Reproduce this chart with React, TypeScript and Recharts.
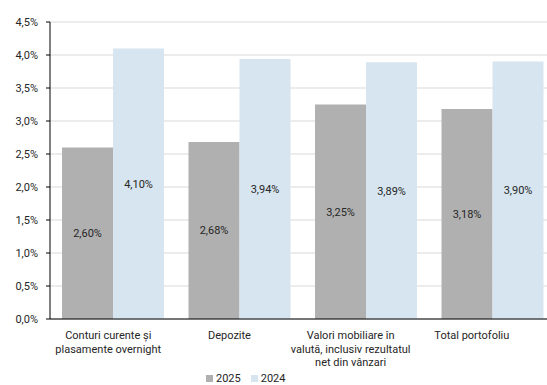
import { BarChart, Bar, XAxis, YAxis, CartesianGrid, Legend, LabelList } from "recharts";

const categories = [
  "Conturi curente și\nplasamente overnight",
  "Depozite",
  "Valori mobiliare în\nvalută, inclusiv rezultatul\nnet din vânzari",
  "Total portofoliu",
];
const values2025 = [2.6, 2.68, 3.25, 3.18];
const values2024 = [4.1, 3.94, 3.89, 3.9];
const yTicks = [0, 0.5, 1, 1.5, 2, 2.5, 3, 3.5, 4, 4.5];
const boundaryTicks = [0, 1, 2, 3, 4];
const seriesOrder = ["y2025", "y2024"];

const data = categories.map((name, i) => ({ name, y2025: values2025[i], y2024: values2024[i] }));

const FONT = "Roboto, 'Noto Sans', sans-serif";
const pct1 = (v: number) => `${v.toFixed(1).replace(".", ",")}%`;
const pct2 = (v: any) => `${Number(v).toFixed(2).replace(".", ",")}%`;

function CatTick({ x, y, payload, index }: any) {
  const lines = String(payload.value).split("\n");
  // excel-style drift of the category labels
  const dx = -5 - (index ?? 0) * 5.3;
  return (
    <g transform={`translate(${x + dx},${y})`}>
      <text textAnchor="middle" fill="#262626" fontSize={11} fontFamily={FONT}>
        {lines.map((l, i) => (
          <tspan key={i} x={0} y={12 + i * 13.5}>{l}</tspan>
        ))}
      </text>
    </g>
  );
}

function LegendBox({ payload }: any) {
  const items = [...(payload || [])].sort(
    (a: any, b: any) => seriesOrder.indexOf(a.dataKey) - seriesOrder.indexOf(b.dataKey)
  );
  return (
    <div style={{ display: "flex", gap: 10, fontFamily: FONT, fontSize: 11, color: "#262626", lineHeight: "13px" }}>
      {items.map((p: any) => (
        <span key={p.value} style={{ display: "flex", alignItems: "center" }}>
          <span style={{ width: 7, height: 7, background: p.color, marginRight: 3, display: "inline-block" }} />
          {p.value}
        </span>
      ))}
    </div>
  );
}

export default function App() {
  return (
    <div style={{ position: "absolute", left: 0, top: 0, width: 547, height: 385, overflow: "hidden", background: "#fff" }}>
      <BarChart width={560} height={385} data={data} margin={{ top: 22, right: 4, left: 0, bottom: 0 }}
        barCategoryGap="9.5%" barGap={0}>
        <CartesianGrid vertical={false} stroke="#d9d9d9" xAxisId="cat" />
        <XAxis xAxisId="b" type="number" domain={[0, 4]} ticks={boundaryTicks} height={0}
          axisLine={false} tick={false} tickSize={4} tickLine={{ stroke: "#000" }} allowDataOverflow />
        <XAxis xAxisId="cat" dataKey="name" height={53} interval={0} tickLine={false}
          axisLine={{ stroke: "#000" }} tick={<CatTick />} />
        <YAxis domain={[0, 4.5]} ticks={yTicks} width={50} tickFormatter={pct1} tickSize={4} tickMargin={8}
          axisLine={{ stroke: "#000" }} tickLine={{ stroke: "#000" }}
          tick={{ fontSize: 11, fontFamily: FONT, fill: "#262626" }} interval={0} />
        <Legend content={<LegendBox />} wrapperStyle={{ left: 206, width: 100, bottom: 0 }} />
        <Bar xAxisId="cat" dataKey="y2025" name="2025" fill="#b0b0b0" isAnimationActive={false}>
          <LabelList dataKey="y2025" position="center" formatter={pct2} fill="#262626" fontSize={11} fontFamily={FONT} />
        </Bar>
        <Bar xAxisId="cat" dataKey="y2024" name="2024" fill="#d6e5f0" isAnimationActive={false}>
          <LabelList dataKey="y2024" position="center" formatter={pct2} fill="#262626" fontSize={11} fontFamily={FONT} />
        </Bar>
      </BarChart>
    </div>
  );
}
